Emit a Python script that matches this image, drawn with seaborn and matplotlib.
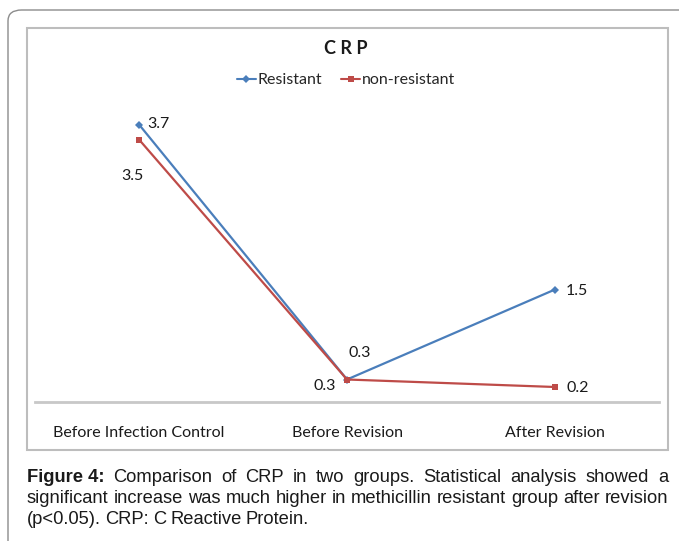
import matplotlib
matplotlib.use("Agg")
import matplotlib.pyplot as plt
from matplotlib.patches import FancyBboxPatch, Rectangle
from matplotlib.lines import Line2D
import seaborn as sns
import pandas as pd

categories = ["Before Infection Control", "Before Revision", "After Revision"]
resistant = [3.7, 0.3, 1.5]
non_resistant = [3.5, 0.3, 0.2]
series_names = ["Resistant", "non-resistant"]

df = pd.DataFrame({
    "stage": categories * 2,
    "value": resistant + non_resistant,
    "group": [series_names[0]] * 3 + [series_names[1]] * 3,
})

sns.set_theme(style="white")
plt.rcParams["font.family"] = ["Lato", "DejaVu Sans"]

W, H = 679, 541
fig = plt.figure(figsize=(W / 100, H / 100), dpi=100)

def fx(x):
    return x / W

def fy(y):
    return 1 - y / H

# outer rounded frame
outer = FancyBboxPatch((fx(8), fy(541) - 0.02), fx(700) - fx(8), fy(10) - fy(541) + 0.02,
                       boxstyle="round,pad=0,rounding_size=0.02", transform=fig.transFigure,
                       fill=False, edgecolor="#8c8c8c", linewidth=1.0, zorder=0)
fig.add_artist(outer)
# inner chart box
inner = Rectangle((fx(27), fy(450)), fx(668) - fx(27), fy(28) - fy(450),
                  transform=fig.transFigure, fill=False, edgecolor="#bdbdbd", linewidth=1.5, zorder=0)
fig.add_artist(inner)

ax = fig.add_axes([fx(35), fy(402), fx(659) - fx(35), fy(102) - fy(402)])
colors = {"Resistant": "#4A7EBB", "non-resistant": "#BE4B48"}
sns.lineplot(data=df, x="stage", y="value", hue="group", style="group",
             markers={"Resistant": "D", "non-resistant": "s"}, dashes=False,
             palette=colors, linewidth=1.6, markersize=4.5, markeredgewidth=0,
             sort=False, legend=False, ax=ax)
ax.set_xlim(-0.5, 2.5)
ax.set_ylim(0, 4)
ax.set_yticks([])
ax.set_xticks(range(len(categories)))
ax.set_xticklabels(categories, fontsize=11.5, color="#1a1a1a")
ax.tick_params(axis="x", length=0, pad=17)
ax.set_xlabel("")
ax.set_ylabel("")
for s in ["top", "left", "right"]:
    ax.spines[s].set_visible(False)
ax.spines["bottom"].set_color("#c8c8c8")
ax.spines["bottom"].set_linewidth(2)
ax.patch.set_alpha(0)

# data labels
res_off = [(6, 0), (1, 19), (8, -1)]
non_off = [(3, -26), (-8, -5), (8, -1)]
non_ha = ["right", "right", "left"]
for i, v in enumerate(resistant):
    ax.annotate(f"{v}", (i, v), xytext=res_off[i], textcoords="offset points",
                fontsize=11.5, va="center", ha="left", color="#1a1a1a")
for i, v in enumerate(non_resistant):
    ax.annotate(f"{v}", (i, v), xytext=non_off[i], textcoords="offset points",
                fontsize=11.5, va="center", ha=non_ha[i], color="#1a1a1a")

# title
fig.text(fx(346), fy(48), "C R P", ha="center", va="center", fontsize=13,
         fontweight="bold", color="#1a1a1a")

# legend
handles = [Line2D([0], [0], color=colors["Resistant"], marker="D", markersize=4, lw=1.5, markeredgewidth=0),
           Line2D([0], [0], color=colors["non-resistant"], marker="s", markersize=4, lw=1.5, markeredgewidth=0)]
fig.legend(handles, series_names, loc="center", bbox_to_anchor=(fx(346), fy(80)), ncol=2,
           frameon=False, fontsize=11.5, handlelength=1.2, handletextpad=0.1, columnspacing=1.2)

# caption (justified lines)
cap_font = ["Liberation Sans", "DejaVu Sans"]
lines = [
    [("Figure 4:", "bold"), ("Comparison", "normal"), ("of", "normal"), ("CRP", "normal"), ("in", "normal"),
     ("two", "normal"), ("groups.", "normal"), ("Statistical", "normal"), ("analysis", "normal"),
     ("showed", "normal"), ("a", "normal")],
    [(w, "normal") for w in "significant increase was much higher in methicillin resistant group after revision".split()],
    [(w, "normal") for w in "(p<0.05). CRP: C Reactive Protein.".split()],
]
ys = [482, 503, 524]
fig.canvas.draw()
renderer = fig.canvas.get_renderer()
x0, x1 = 27, 668
for li, (words, y) in enumerate(zip(lines, ys)):
    texts = []
    widths = []
    for w, wt in words:
        t = fig.text(0, fy(y), w, fontsize=13.2, fontweight=wt, family=cap_font,
                     ha="left", va="baseline", color="#1a1a1a")
        bb = t.get_window_extent(renderer)
        texts.append(t)
        widths.append(bb.width)
    total = sum(widths)
    if li < 2:
        gap = max((x1 - x0 - total) / (len(words) - 1), 3.0)
    else:
        gap = 4.2
    x = x0
    for t, wd in zip(texts, widths):
        t.set_x(fx(x))
        x += wd + gap

fig.savefig("out.png", dpi=100)
